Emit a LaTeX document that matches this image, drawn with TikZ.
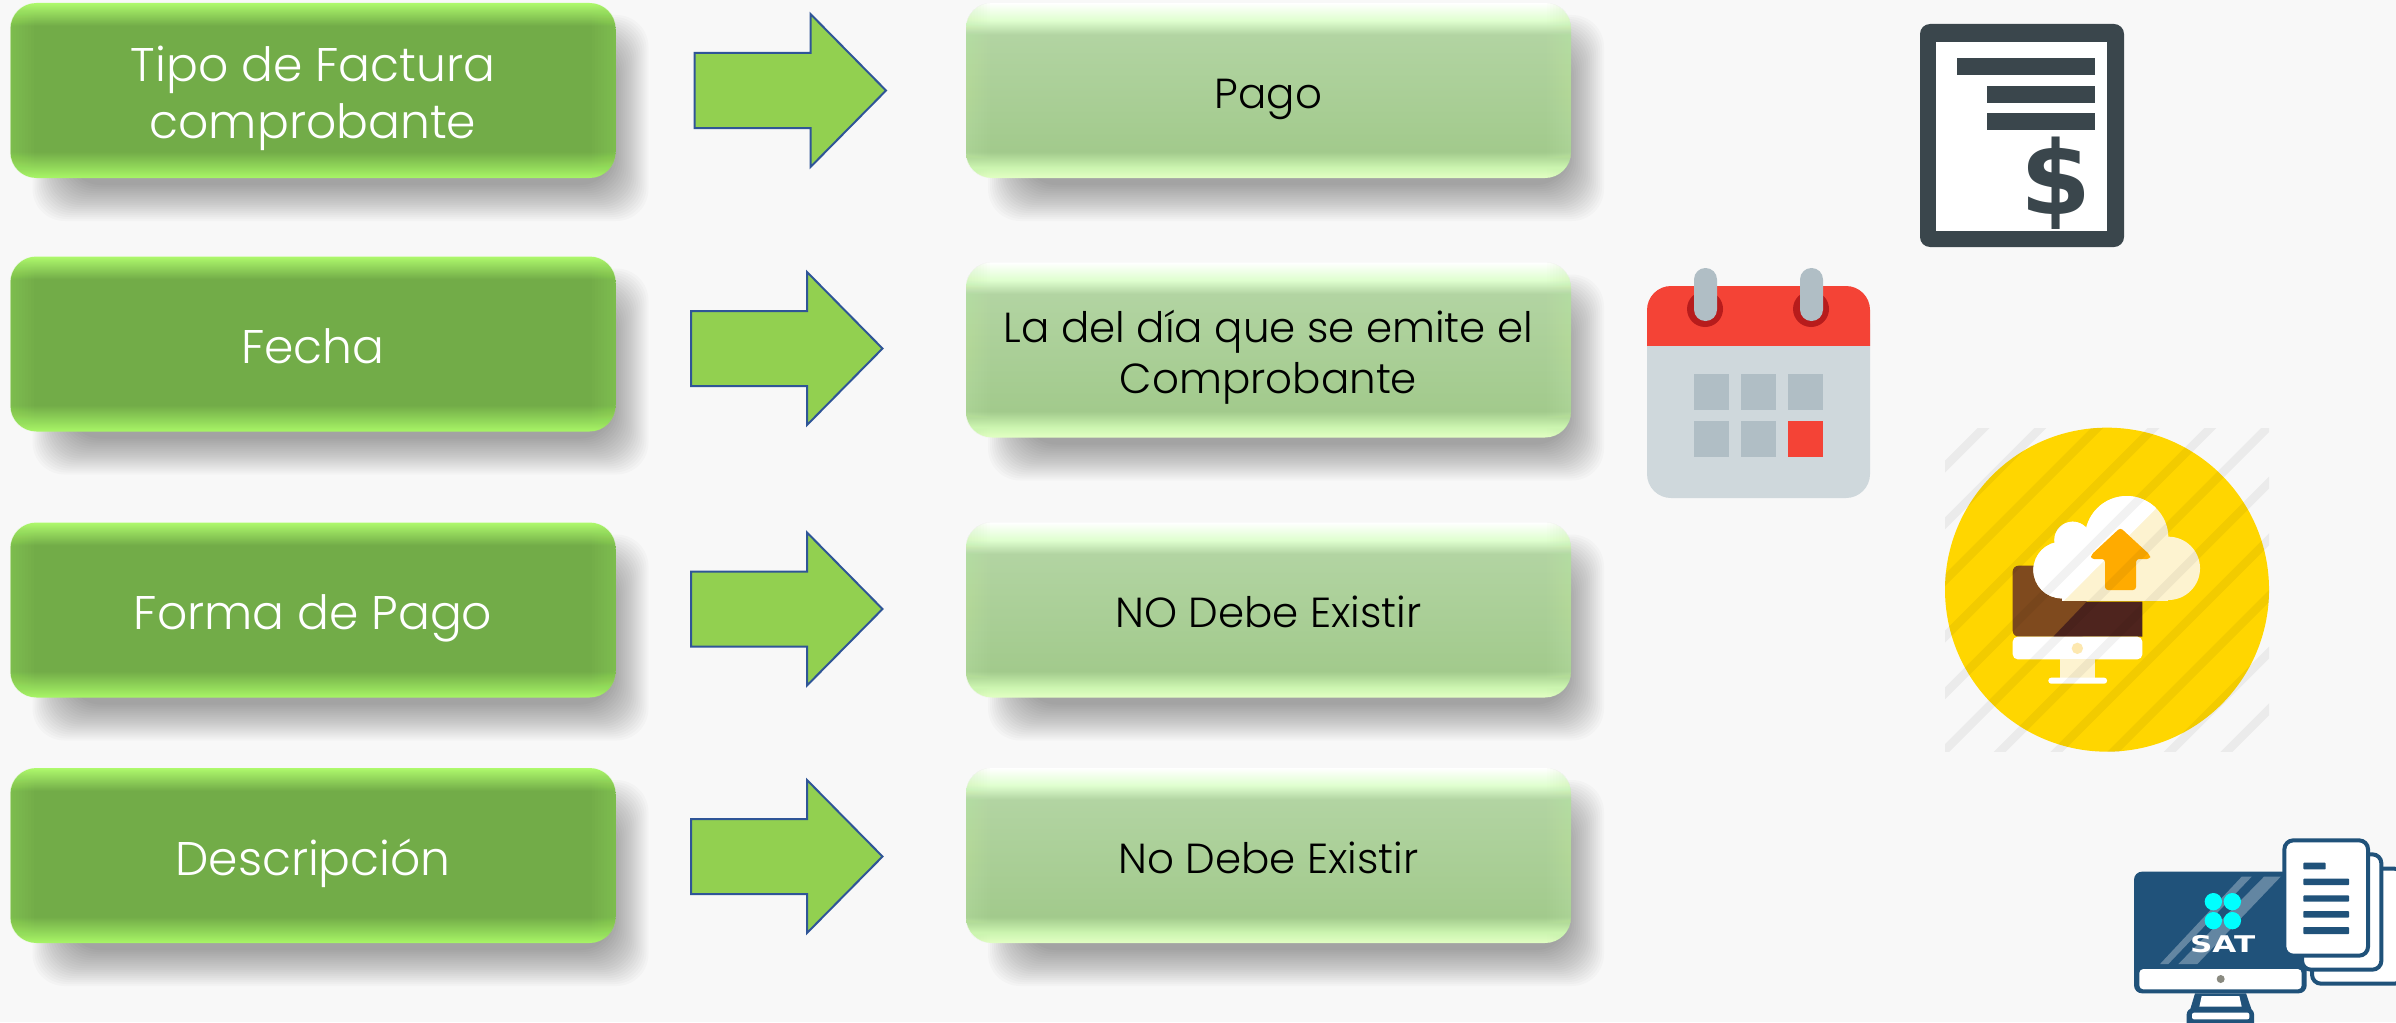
\documentclass[tikz,border=0pt]{standalone}
\usepackage{fontspec}
\setmainfont{Poppins Light}
\newfontfamily\djbold[BoldFont=*]{DejaVu Sans Bold}
\usetikzlibrary{calc}
\definecolor{bgc}{HTML}{F8F8F8}
\definecolor{lbot}{HTML}{A8F666}
\definecolor{lmain}{HTML}{72AC48}
\definecolor{ltop}{HTML}{AEF96C}
\definecolor{rbot}{HTML}{E2FFC4}
\definecolor{rbot2}{HTML}{CCF5B0}
\definecolor{rmain1}{HTML}{A2CA8C}
\definecolor{rmain2}{HTML}{B2D4A2}
\definecolor{rtop2}{HTML}{DFFFCF}
\definecolor{arrfill}{HTML}{92D050}
\definecolor{arrline}{HTML}{2F5597}
\definecolor{docdark}{HTML}{3A464C}
\definecolor{calred}{HTML}{F44336}
\definecolor{calgrey}{HTML}{CFD8DC}
\definecolor{calsq}{HTML}{B0BEC5}
\definecolor{calring}{HTML}{B71C1C}
\definecolor{upyel}{HTML}{FFD600}
\definecolor{upcream}{HTML}{FDF3D0}
\definecolor{upbrown}{HTML}{7F4A1E}
\definecolor{updark}{HTML}{4E241E}
\definecolor{uporange}{HTML}{FFAB00}
\definecolor{updot}{HTML}{FDE8B0}
\definecolor{satblue}{HTML}{20527A}
\definecolor{satcyan}{HTML}{00FFFF}
\definecolor{satgrey}{HTML}{8A8A80}
\pgfdeclareverticalshading{lgreen}{100bp}{color(0bp)=(lbot);color(25bp)=(lbot);color(32.5bp)=(lmain);color(68.5bp)=(lmain);color(75bp)=(ltop);color(100bp)=(ltop)}
\pgfdeclareverticalshading{rgreen}{100bp}{color(0bp)=(rbot);color(25bp)=(rbot);color(28bp)=(rbot2);color(32.5bp)=(rmain1);color(66bp)=(rmain2);color(70bp)=(rtop2);color(75bp)=(white);color(100bp)=(white)}
\newcommand{\tst}{\rule[-0.3em]{0pt}{1.44em}}
\tikzset{
  gbox/.style={minimum width=302.5pt,minimum height=87.5pt,inner sep=0pt,rounded corners=13pt,align=center},
  leftbox/.style={gbox,shading=lgreen,text=white,font=\fontsize{23.6}{28.5}\selectfont\lineskiplimit -100pt\relax},
  rightbox/.style={gbox,shading=rgreen,text=black,font=\fontsize{21}{25.5}\selectfont\lineskiplimit -100pt\relax},
  blockarr/.style={fill=arrfill,draw=arrline,line width=1pt,line join=miter},
  docbar/.style={fill=docdark},
  satdoc/.style={fill=white,draw=satblue,line width=2pt,rounded corners=4.5pt},
  satline/.style={fill=satblue,rounded corners=0.4pt}
}
\newcommand{\gshadow}[2]{%
  \foreach \e in {-18,-16,...,18}
    \fill[black,opacity=0.018,rounded corners=16pt]
      ({#1-302.5+40-\e},{#2-87.5+30-\e}) rectangle ({#1+302.5+15+\e},{#2+87.5+25+\e});}
\newcommand{\gsides}[2]{%
  \begin{scope}
    \clip[rounded corners=13pt] (#1.south west) rectangle (#1.north east);
    \foreach \i in {1,...,8}{
      \fill[#2,opacity=0.04] (#1.north west) rectangle ([xshift=\i*1.5pt]#1.south west);
      \fill[#2,opacity=0.04] (#1.north east) rectangle ([xshift=-\i*1.5pt]#1.south east);
    }
  \end{scope}}
\newcommand{\gboxdraw}[6]{% name, cx, cy, style, side colour, text
  \gshadow{#2}{#3}
  \node[#4] (#1) at (#2,#3) {#6};
  \gsides{#1}{#5}}
\newcommand{\blockarrow}[3]{% name, x0, tip y
  \draw[blockarr] (#2,#3-37.5) -- (#2+116,#3-37.5) -- (#2+116,#3-76.5) -- (#2+191.5,#3)
    -- (#2+116,#3+76.5) -- (#2+116,#3+37.5) -- (#2,#3+37.5) -- cycle;
  \coordinate (#1) at (#2+95,#3);}
\newcommand{\cloudblobs}[1]{%
  \fill[#1] (425,510) circle (85);
  \fill[#1] (458,420) circle (55);
  \fill[#1] (620,413) circle (125);
  \fill[#1] (745,505) circle (95);
  \fill[#1] (425,440) rectangle (745,604);}
\begin{document}
\begin{tikzpicture}[x=0.5pt,y=-0.5pt]
\clip (0,0) rectangle (2396,1022);
\fill[bgc] (0,0) rectangle (2396,1022);

% left column
\gboxdraw{l1}{313}{90.5}{leftbox}{lbot}{\tst Tipo de Factura\\\tst comprobante}
\gboxdraw{l2}{313}{344}{leftbox}{lbot}{\tst Fecha}
\gboxdraw{l3}{313}{610}{leftbox}{lbot}{\tst Forma de Pago}
\gboxdraw{l4}{313}{855.5}{leftbox}{lbot}{\tst Descripción}
% right column
\gboxdraw{r1}{1268.5}{90.5}{rightbox}{rbot2}{\tst Pago}
\gboxdraw{r2}{1268.5}{350}{rightbox}{rbot2}{\tst La del día que se emite el\\\tst Comprobante}
\gboxdraw{r3}{1268.5}{610}{rightbox}{rbot2}{\tst NO Debe Existir}
\gboxdraw{r4}{1268.5}{855.5}{rightbox}{rbot2}{\tst No Debe Existir}
% block arrows
\blockarrow{a1}{694.5}{90.5}
\blockarrow{a2}{691}{348.5}
\blockarrow{a3}{691}{609}
\blockarrow{a4}{691}{856.5}

% invoice icon
\fill[docdark,rounded corners=5pt] (1920,24) rectangle (2124,247);
\fill[white] (1936,42) rectangle (2107,231);
\fill[docbar] (1957,58) rectangle (2095,75);
\fill[docbar] (1987,86) rectangle (2095,103);
\fill[docbar] (1987,113) rectangle (2095,130);
\node[inner sep=0pt,text=docdark,font=\djbold\fontsize{51}{51}\selectfont] (dollar) at (2055.5,183) {\$};

% calendar icon
\fill[calgrey,rounded corners=12pt] (1647,300) rectangle (1870,498);
\begin{scope}
  \clip (1640,280) rectangle (1880,345);
  \fill[calred,rounded corners=12pt] (1647,286) rectangle (1870,400);
\end{scope}
\fill[calsq] (1694,374) rectangle (1729,410);
\fill[calsq] (1741,374) rectangle (1776,410);
\fill[calsq] (1788,374) rectangle (1823,410);
\fill[calsq] (1694,421) rectangle (1729,457);
\fill[calsq] (1741,421) rectangle (1776,457);
\fill[calred] (1788,421) rectangle (1823,457);
\fill[calring] (1705,309) circle (18);
\fill[calring] (1811,309) circle (18);
\fill[calsq,rounded corners=5.7pt] (1694,268) rectangle (1717,321);
\fill[calsq,rounded corners=5.7pt] (1800,268) rectangle (1823,321);

% upload icon
\begin{scope}[shift={(1920,400)},x=0.16667pt,y=-0.16667pt]
  \fill[upyel] (561,569) circle (486);
  % monitor
  \fill[upbrown,rounded corners=3pt] (278,710) -- (278,497) -- (500,497) -- (500,710) -- cycle;
  \fill[updark] (667,605) -- (500,605) -- (400,710) -- (667,710) -- cycle;
  \fill[white,rounded corners=2.5pt] (278,710) -- (278,778) -- (667,778) -- (667,710) -- cycle;
  \fill[upcream] (420,778) rectangle (525,833);
  \fill[white,rounded corners=1.4pt] (385,833) rectangle (561,851);
  \fill[updot] (472,745) circle (17);
  % cloud
  \cloudblobs{upcream}
  \begin{scope}
    \clip (300,734) -- (730,304) -- (300,200) -- cycle;
    \cloudblobs{white}
  \end{scope}
  % up arrow
  \fill[uporange,rounded corners=1.5pt] (601,383) -- (690,465) -- (690,477) -- (648,477) -- (648,570) -- (555,570) -- (555,477) -- (513,477) -- (513,465) -- cycle;
  % diagonal stripes
  \begin{scope}
    \clip (75,85) rectangle (1047,1053);
    \foreach \s in {275,445,...,1980}
      \fill[black,opacity=0.05] (0,\s-18) -- (0,\s+18) -- (\s+18,0) -- (\s-18,0) -- cycle;
  \end{scope}
\end{scope}

% SAT icon
\begin{scope}[shift={(2110,820)},x=0.16667pt,y=-0.16667pt]
  \fill[satblue,rounded corners=4pt] (72,155) rectangle (590,520);
  \fill[white,opacity=0.3] (150,432) -- (175,432) -- (425,170) -- (395,170) -- cycle;
  \fill[white,opacity=0.3] (205,432) -- (262,432) -- (512,170) -- (462,170) -- cycle;
  \fill[white,rounded corners=2pt] (88,447) rectangle (575,508);
  \fill[satgrey] (332,477) circle (12);
  \fill[satblue] (255,520) -- (408,520) -- (425,570) -- (240,570) -- cycle;
  \fill[white] (275,528) -- (388,528) -- (395,560) -- (268,560) -- cycle;
  \fill[satblue,rounded corners=3pt] (230,565) rectangle (432,640);
  \fill[white,rounded corners=1pt] (246,578) rectangle (418,598);
  \fill[satcyan] (310,245) circle (26);
  \fill[satcyan] (367,245) circle (26);
  \fill[satcyan] (310,302) circle (26);
  \fill[satcyan] (367,302) circle (26);
  \node[inner sep=0pt,text=white,xscale=1.35,transform shape,font=\djbold\fontsize{11.5}{11.5}\selectfont] (sat) at (338,373) {SAT};
  \draw[satdoc] (606,146) rectangle (880,491);
  \draw[satdoc] (576,103) rectangle (814,449);
  \draw[satdoc] (523,61) rectangle (774,407);
  \fill[satline] (580,128) rectangle (647,148);
  \fill[satline] (580,176) rectangle (717,195);
  \fill[satline] (580,226) rectangle (717,245);
  \fill[satline] (580,273) rectangle (717,293);
  \fill[satline] (580,321) rectangle (717,342);
\end{scope}
\end{tikzpicture}
\end{document}
